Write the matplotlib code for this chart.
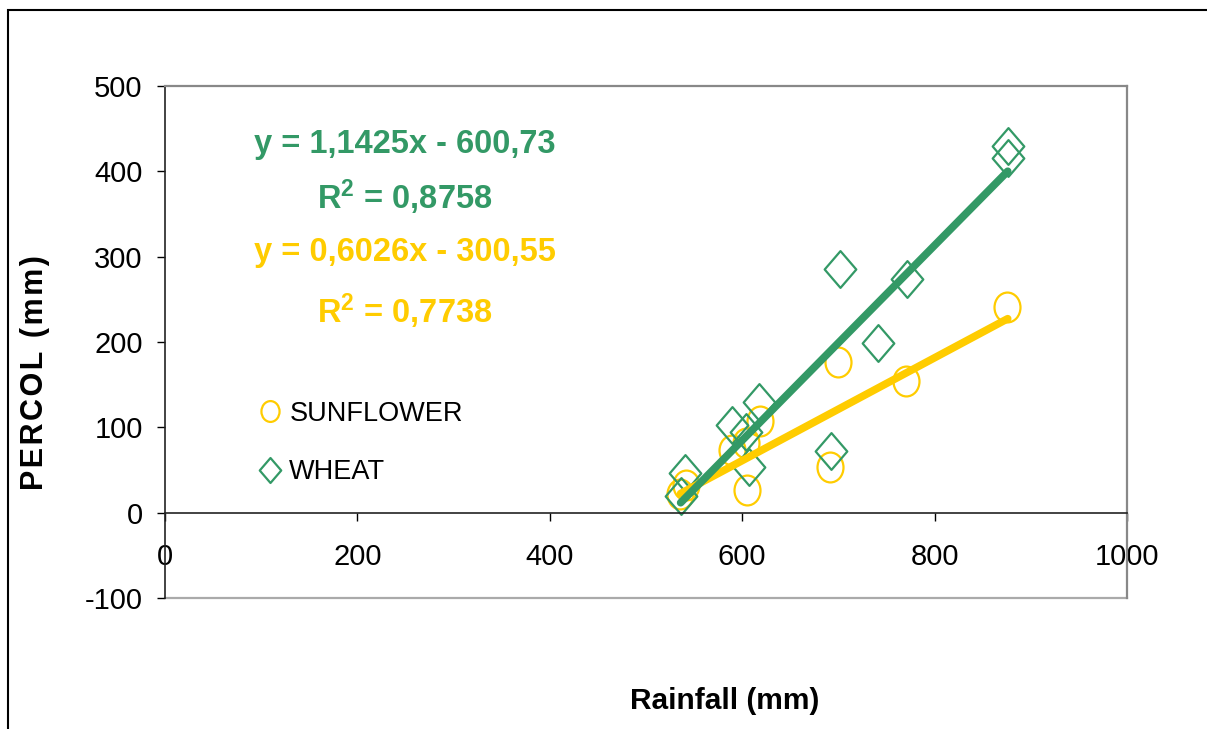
import numpy as np
import matplotlib
matplotlib.use("Agg")
import matplotlib.pyplot as plt
from matplotlib.path import Path
from matplotlib.transforms import Affine2D
from matplotlib.patches import Rectangle
from matplotlib.lines import Line2D

plt.rcParams['font.family'] = ['Liberation Sans', 'DejaVu Sans']
plt.rcParams['axes.unicode_minus'] = False
plt.rcParams['mathtext.fontset'] = 'custom'
plt.rcParams['mathtext.rm'] = 'Liberation Sans:bold'
plt.rcParams['mathtext.default'] = 'rm'

rain_sun = [535, 542, 589, 604, 618, 605, 691, 700, 770, 875]
percol_sun = [22, 33, 74, 82, 107, 27, 53, 176, 154, 241]
rain_wheat = [536, 541, 589, 604, 617, 607, 692, 702, 741, 771, 876, 876]
percol_wheat = [19, 46, 103, 94, 130, 53, 72, 286, 199, 274, 430, 416]

# trend lines as printed on the chart
slope_wheat, icpt_wheat, r2_wheat = 1.1425, -600.73, 0.8758
slope_sun, icpt_sun, r2_sun = 0.6026, -300.55, 0.7738

GREEN = '#339966'
YELLOW = '#FFCC00'

# squashed circle / diamond markers like the original
ellipse = Path.unit_circle().transformed(Affine2D().scale(0.87, 1.0))
diamond = Path([(0, 1), (0.86, 0), (0, -1), (-0.86, 0), (0, 1)],
               [Path.MOVETO, Path.LINETO, Path.LINETO, Path.LINETO, Path.CLOSEPOLY])

fig = plt.figure(figsize=(12.07, 7.29), dpi=100)
ax = fig.add_axes([165/1207, 1-598/729, (1127-165)/1207, (598-86)/729])

xs = np.array([min(rain_wheat), max(rain_wheat)])
ax.plot(xs, slope_sun*xs + icpt_sun, color=YELLOW, lw=5.5, solid_capstyle='round', zorder=3)
ax.plot(xs, slope_wheat*xs + icpt_wheat, color=GREEN, lw=5.5, solid_capstyle='round', zorder=4)

ax.plot(rain_sun, percol_sun, ls='none', marker=ellipse, ms=21.5, mfc='none',
        mec=YELLOW, mew=1.6, zorder=2)
ax.plot(rain_wheat, percol_wheat, ls='none', marker=diamond, ms=26.5, mfc='none',
        mec=GREEN, mew=1.6, zorder=2)

ax.set_xlim(0, 1000)
ax.set_ylim(-100, 500)
ax.set_xticks(np.arange(0, 1001, 200))
ax.set_yticks(np.arange(-100, 501, 100))

ax.spines['bottom'].set_position(('data', 0))
ax.spines['bottom'].set_color('#222222')
ax.spines['left'].set_color('#222222')
ax.spines['bottom'].set_linewidth(1.2)
ax.spines['left'].set_linewidth(1.2)
for s in ['top', 'right']:
    ax.spines[s].set_color('#888888')
    ax.spines[s].set_linewidth(1.6)
ax.axhline(-100, color='#aaaaaa', lw=1.6, clip_on=False, zorder=1)

ax.tick_params(axis='x', direction='out', length=6, width=1, pad=16, labelsize=21)
ax.tick_params(axis='y', direction='out', length=6, width=1, pad=10, labelsize=21)

# legend
h_sun = Line2D([], [], ls='none', marker=ellipse, ms=15, mfc='none', mec=YELLOW, mew=1.6)
h_wheat = Line2D([], [], ls='none', marker=diamond, ms=18, mfc='none', mec=GREEN, mew=1.6)
ax.legend([h_sun, h_wheat], ['SUNFLOWER', 'WHEAT'], loc='upper left',
          bbox_to_anchor=(246/1207, 1-387/729), bbox_transform=fig.transFigure,
          frameon=False, fontsize=19.5, handlelength=0.8, handletextpad=0.3,
          labelspacing=1.2, borderpad=0)

# equations
def fmt(v):
    return str(v).replace('.', ',')

eqs = [
    ('y = %sx - %s' % (fmt(slope_wheat), fmt(-icpt_wheat)), GREEN, 145),
    ('R$^{\\mathregular{2}}$ = %s' % fmt(r2_wheat), GREEN, 197),
    ('y = %sx - %s' % (fmt(slope_sun), fmt(-icpt_sun)), YELLOW, 253),
    ('R$^{\\mathregular{2}}$ = %s' % fmt(r2_sun), YELLOW, 311),
]
for txt, col, ypx in eqs:
    fig.text(405/1207, 1-ypx/729, txt, color=col, fontsize=23.5,
             fontweight='bold', ha='center', va='center')

fig.text(725/1207, 1-701/729, 'Rainfall (mm)', fontsize=21.5, fontweight='bold',
         ha='center', va='center')
fig.text(35/1207, 1-373/729, '\u200a'.join('PERCOL (mm)'), fontsize=22,
         fontweight='bold', rotation=90, ha='center', va='center')

# outer frame of the chart
fig.patches.append(Rectangle((8/1207, -0.1), 1.5, 1-10/729+0.1, fill=False,
                             lw=1.5, ec='black', transform=fig.transFigure))

fig.savefig('out.png', dpi=100)
